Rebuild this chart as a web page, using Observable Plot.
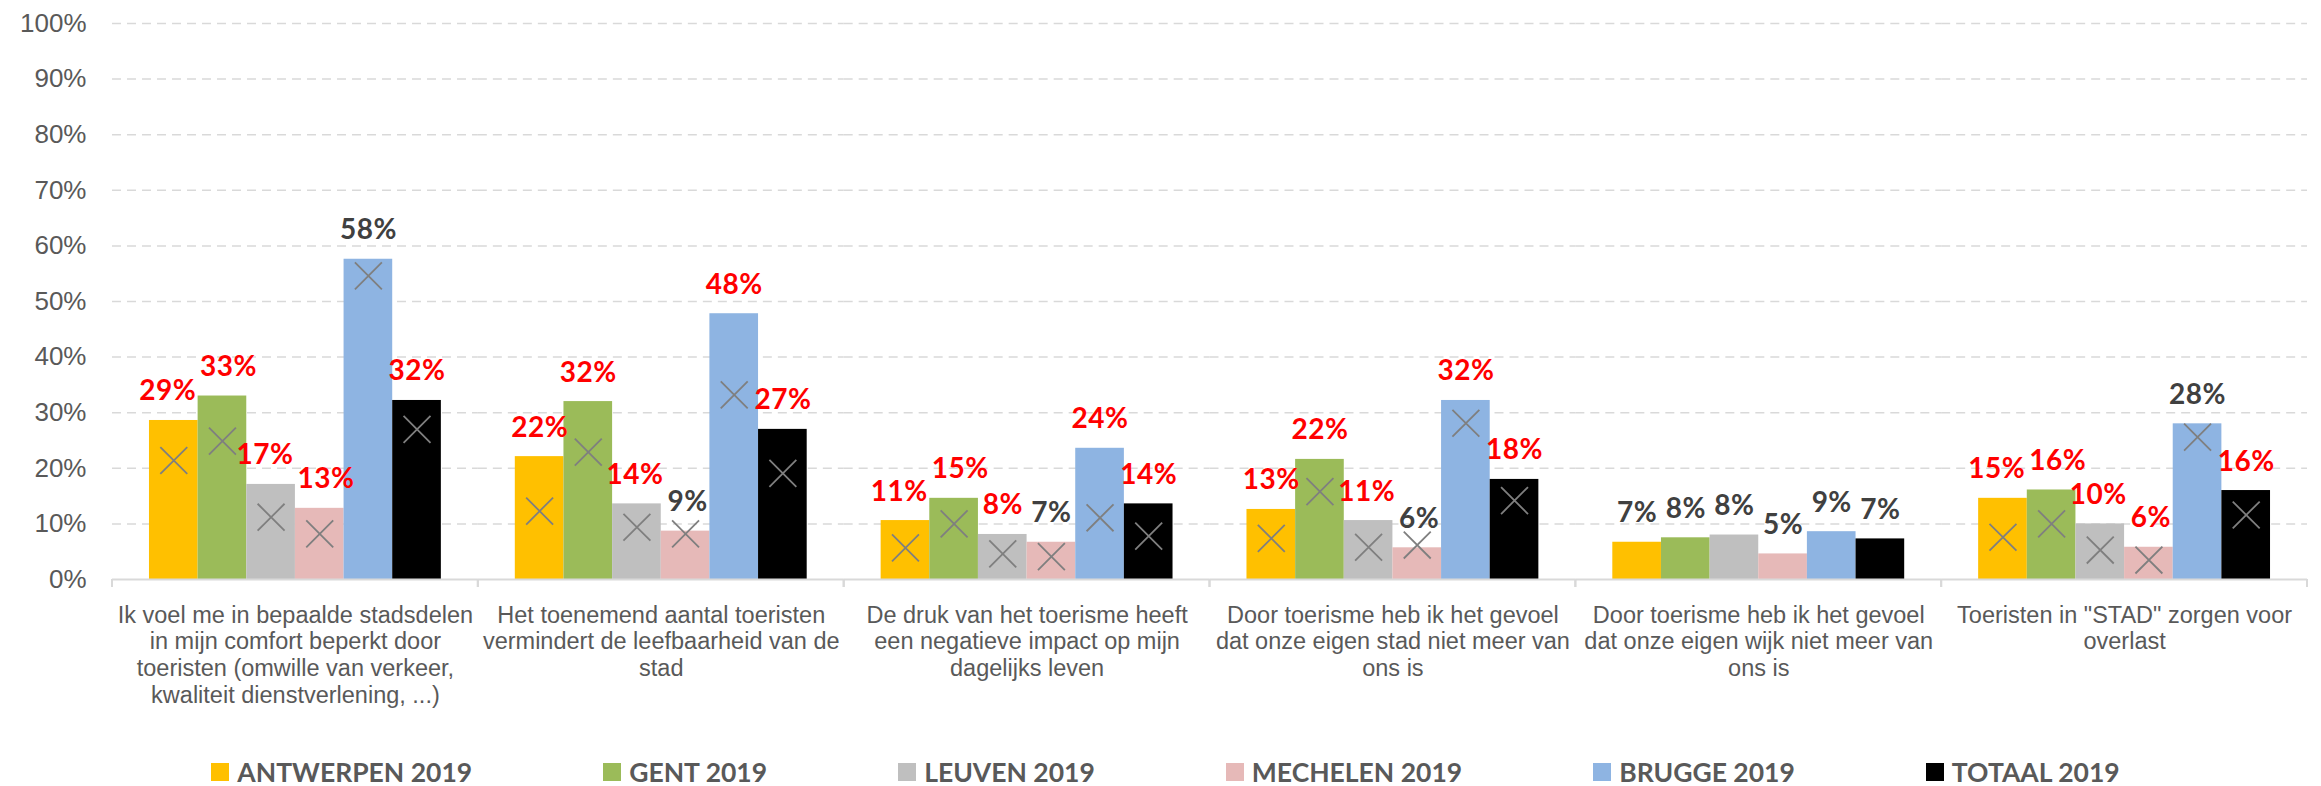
<!DOCTYPE html>
<html>
<head>
<meta charset="utf-8">
<script src="https://cdn.jsdelivr.net/npm/d3@7"></script>
<script src="https://cdn.jsdelivr.net/npm/@observablehq/plot@0.6"></script>
<style>
  html, body { margin: 0; padding: 0; background: #ffffff; }
  #chart svg { display: block; }
  #chart g.vlabel text { letter-spacing: 0.5px; }
  #legend { display: flex; justify-content: center; gap: 131px; padding-left: 10px;
            font-family: Lato, "Liberation Sans", sans-serif; font-weight: bold; font-size: 26.5px;
            color: #595959; padding-top: 14px; line-height: 36px; }
  #legend .item { display: flex; align-items: center; white-space: nowrap; }
  #legend .sw { width: 18px; height: 18px; margin-right: 8px; display: inline-block; }
</style>
</head>
<body>
<div id="chart"></div>
<div id="legend"></div>
<script>
// ---- data ----
const categories = [
  "Ik voel me in bepaalde stadsdelen\nin mijn comfort beperkt door\ntoeristen (omwille van verkeer,\nkwaliteit dienstverlening, ...)",
  "Het toenemend aantal toeristen\nvermindert de leefbaarheid van de\nstad",
  "De druk van het toerisme heeft\neen negatieve impact op mijn\ndagelijks leven",
  "Door toerisme heb ik het gevoel\ndat onze eigen stad niet meer van\nons is",
  "Door toerisme heb ik het gevoel\ndat onze eigen wijk niet meer van\nons is",
  "Toeristen in \"STAD\" zorgen voor\noverlast"
];
const series = ["ANTWERPEN 2019", "GENT 2019", "LEUVEN 2019", "MECHELEN 2019", "BRUGGE 2019", "TOTAAL 2019"];
const colors = ["#FFC000", "#9BBB59", "#BFBFBF", "#E6B9B8", "#8EB4E2", "#000000"];

// bar values (%), per series, one per category
const antwerpen = [28.6, 22.1, 10.6, 12.6, 6.7, 14.6];
const gent      = [33.0, 32.0, 14.6, 21.6, 7.5, 16.1];
const leuven    = [17.1, 13.6, 8.1, 10.6, 8.0, 10.0];
const mechelen  = [12.8, 8.7, 6.7, 5.7, 4.6, 5.8];
const brugge    = [57.6, 47.8, 23.6, 32.2, 8.6, 28.0];
const totaal    = [32.2, 27.0, 13.6, 18.0, 7.3, 16.0];

// comparison markers (X), per series, one per category (null = none)
const antwerpenX = [21.4, 12.3, 5.7, 7.4, null, 7.6];
const gentX      = [24.9, 22.9, 10.0, 15.8, null, 10.0];
const leuvenX    = [11.2, 9.4, 4.6, 5.8, null, 5.3];
const mechelenX  = [8.2, 8.2, 4.1, 6.2, null, 3.5];
const bruggeX    = [54.6, 33.2, 11.1, 28.1, null, 25.6];
const totaalX    = [27.0, 19.1, 7.8, 14.2, null, 11.6];

// significant difference flag (1 = red label)
const antwerpenSig = [1, 1, 1, 1, 0, 1];
const gentSig      = [1, 1, 1, 1, 0, 1];
const leuvenSig    = [1, 1, 1, 1, 0, 1];
const mechelenSig  = [1, 0, 0, 0, 0, 1];
const bruggeSig    = [0, 1, 1, 1, 0, 0];
const totaalSig    = [1, 1, 1, 1, 0, 1];

const yTicks = [0, 10, 20, 30, 40, 50, 60, 70, 80, 90, 100];

// ---- build table ----
const values = [antwerpen, gent, leuven, mechelen, brugge, totaal];
const markers = [antwerpenX, gentX, leuvenX, mechelenX, bruggeX, totaalX];
const sig = [antwerpenSig, gentSig, leuvenSig, mechelenSig, bruggeSig, totaalSig];
const table = [];
categories.forEach((c, i) => series.forEach((s, j) => {
  table.push({category: c, series: s, value: values[j][i], marker: markers[j][i], sig: sig[j][i]});
}));

const boundaryTicks = (index, scales, vals, dims) => {
  const g = d3.create("svg:g");
  const xr = scales.x && scales.x.range ? scales.x.range() : [dims.marginLeft, dims.width - dims.marginRight];
  const y0 = scales.y(0);
  for (const xv of [xr[0], xr[1]]) {
    g.append("line").attr("x1", xv).attr("x2", xv).attr("y1", y0).attr("y2", y0 + 8)
      .attr("stroke", "#d9d9d9").attr("stroke-width", 2);
  }
  return g.node();
};

const labelFont = {fontSize: 28, fontWeight: "bold", fontFamily: "Lato, 'Liberation Sans', sans-serif", className: "vlabel"};

const chart = Plot.plot({
  width: 2321,
  height: 740,
  marginTop: 23,
  marginBottom: 161,
  marginLeft: 112,
  marginRight: 14,
  style: {background: "#ffffff"},
  fx: {domain: categories, paddingInner: 0, paddingOuter: 0, round: false},
  x: {domain: series, paddingInner: 0, paddingOuter: 0.76, round: false, axis: null},
  y: {domain: [0, 100]},
  color: {domain: series, range: colors},
  marks: [
    Plot.ruleY(yTicks.filter(d => d > 0), {stroke: "#d9d9d9", strokeWidth: 1.5, strokeDasharray: "9,6"}),
    Plot.barY(table, {fx: "category", x: "series", y: "value", fill: "series"}),
    Plot.dot(table.filter(d => d.marker != null), {fx: "category", x: "series", y: "marker", symbol: "times", r: 12.3, stroke: "#7f7f7f", strokeWidth: 1.8}),
    Plot.text(table.filter(d => d.sig), {fx: "category", x: "series", y: "value", text: d => Math.round(d.value) + "%", dy: -29, fill: "#FF0000", ...labelFont}),
    Plot.text(table.filter(d => !d.sig), {fx: "category", x: "series", y: "value", text: d => Math.round(d.value) + "%", dy: -29, fill: "#404040", ...labelFont}),
    Plot.ruleY([0], {stroke: "#d9d9d9", strokeWidth: 2}),
    boundaryTicks,
    Plot.axisY({ticks: yTicks, tickFormat: d => d + "%", tickSize: 0, tickPadding: 26, fontSize: 26,
      fontFamily: "'Liberation Sans', Arial, sans-serif", fill: "#595959", label: null}),
    Plot.axisFx({anchor: "bottom", tickSize: 0, tickPadding: 24, fontSize: 23.5, lineHeight: 1.14,
      fontFamily: "'Liberation Sans', Arial, sans-serif", fill: "#595959", label: null})
  ]
});
document.getElementById("chart").appendChild(chart);

// spread value labels horizontally where neighbours collide (like the spreadsheet's label placement)
(function spreadLabels() {
  const labels = Array.from(chart.querySelectorAll("g.vlabel text"));
  const shift = new Map(labels.map(t => [t, 0]));
  const apply = (t, dx) => {
    const s = shift.get(t) + dx;
    shift.set(t, s);
    const base = t.dataset.baseTransform ?? (t.dataset.baseTransform = t.getAttribute("transform") || "");
    t.setAttribute("transform", (base + ` translate(${s},0)`).trim());
  };
  for (let iter = 0; iter < 6; iter++) {
    const boxes = labels.map(t => ({t, r: t.getBoundingClientRect()})).sort((a, b) => a.r.left - b.r.left);
    let moved = false;
    for (let i = 1; i < boxes.length; i++) {
      const a = boxes[i - 1].r, b = boxes[i].r;
      const vOverlap = Math.min(a.bottom, b.bottom) - Math.max(a.top, b.top);
      const hOverlap = a.right - b.left;
      if (vOverlap > 2 && hOverlap > -3) {
        const d = (hOverlap + 4) / 2;
        apply(boxes[i - 1].t, -d);
        apply(boxes[i].t, d);
        moved = true;
      }
    }
    if (!moved) break;
  }
})();

// legend
const legend = document.getElementById("legend");
series.forEach((s, j) => {
  const item = document.createElement("span");
  item.className = "item";
  const sw = document.createElement("span");
  sw.className = "sw";
  sw.style.background = colors[j];
  item.appendChild(sw);
  item.appendChild(document.createTextNode(s));
  legend.appendChild(item);
});
</script>
</body>
</html>
